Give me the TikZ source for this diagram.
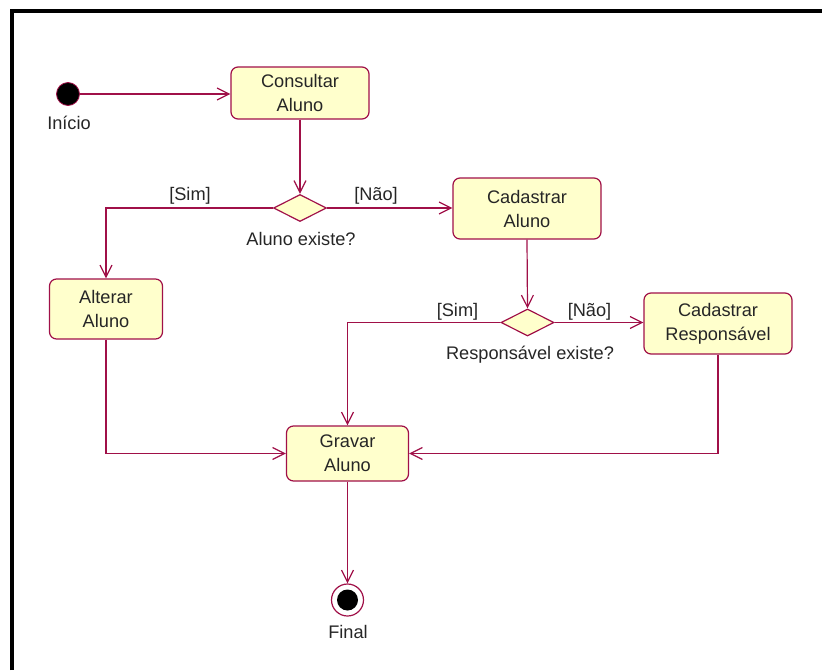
\documentclass[tikz,border=0pt]{standalone}
\usepackage{fontspec}
\setmainfont{Liberation Sans}
\usetikzlibrary{arrows.meta,shapes.geometric}
\definecolor{maroon}{RGB}{160,16,72}
\definecolor{boxfill}{RGB}{255,255,204}
\begin{document}
\begin{tikzpicture}[x=1pt,y=-1pt,
  every node/.style={font=\fontsize{18.2}{24}\selectfont, text=black!85},
  act/.style={draw=maroon, fill=boxfill, rounded corners=7pt, line width=1.2pt, align=center, inner sep=0pt},
  dec/.style={draw=maroon, fill=boxfill, diamond, line width=1.2pt, inner sep=0pt, minimum width=53pt, minimum height=27pt},
  flow/.style={draw=maroon, line width=1.2pt, -{Straight Barb[length=12pt,width=12pt]}},
  lbl/.style={inner sep=0pt}]
\useasboundingbox (0,0) rectangle (822,670);
% frame
\draw[line width=4pt] (12,670) -- (12,11.3) -- (822,11.3);
% nodes
\node[circle, fill=black, draw=maroon, line width=0.8pt, minimum size=23pt, inner sep=0pt] (init) at (68,94) {};
\node[lbl] (linit) at (69,123) {Início};
\node[act, minimum width=138pt, minimum height=52pt] (cons) at (300,93) {Consultar\\Aluno};
\node[dec] (d1) at (300,208) {};
\node[lbl] (lsim1) at (190,196) {[Sim]};
\node[lbl] (lnao1) at (376,196) {[Não]};
\node[lbl] (ld1) at (301,239) {Aluno existe?};
\node[act, minimum width=148pt, minimum height=61pt] (cadA) at (527,208.5) {Cadastrar\\Aluno};
\node[act, minimum width=113pt, minimum height=60pt] (alt) at (106,309) {Alterar\\Aluno};
\node[dec] (d2) at (527.5,322.5) {};
\node[lbl] (lsim2) at (457.5,312) {[Sim]};
\node[lbl] (lnao2) at (589.5,312) {[Não]};
\node[lbl] (ld2) at (530,355) {Responsável existe?};
\node[act, minimum width=148pt, minimum height=61pt] (cadR) at (718,323.5) {Cadastrar\\Responsável};
\node[act, minimum width=122pt, minimum height=55pt] (grav) at (347.5,453.5) {Gravar\\Aluno};
\node[circle, draw=maroon, fill=white, line width=1.2pt, minimum size=32pt, inner sep=0pt] (fin) at (347.5,600) {};
\node[circle, fill=black, minimum size=21pt, inner sep=0pt] (finin) at (fin.center) {};
\node[lbl] (lfin) at (348,632) {Final};
% connectors
\draw[flow] (init.east) -- (cons.west |- init.east);
\draw[flow] (cons.south) -- (d1.north);
\draw[flow] (d1.west) -| (alt.north);
\draw[flow] (d1.east) -- (cadA.west |- d1.east);
\draw[flow] (cadA.south) -- (d2.north);
\draw[flow] (d2.east) -- (cadR.west |- d2.east);
\draw[flow] (d2.west) -| (grav.north);
\draw[flow] (alt.south) |- (grav.west);
\draw[flow] (cadR.south) |- (grav.east);
\draw[flow] (grav.south) -- (fin.north);
\end{tikzpicture}
\end{document}
